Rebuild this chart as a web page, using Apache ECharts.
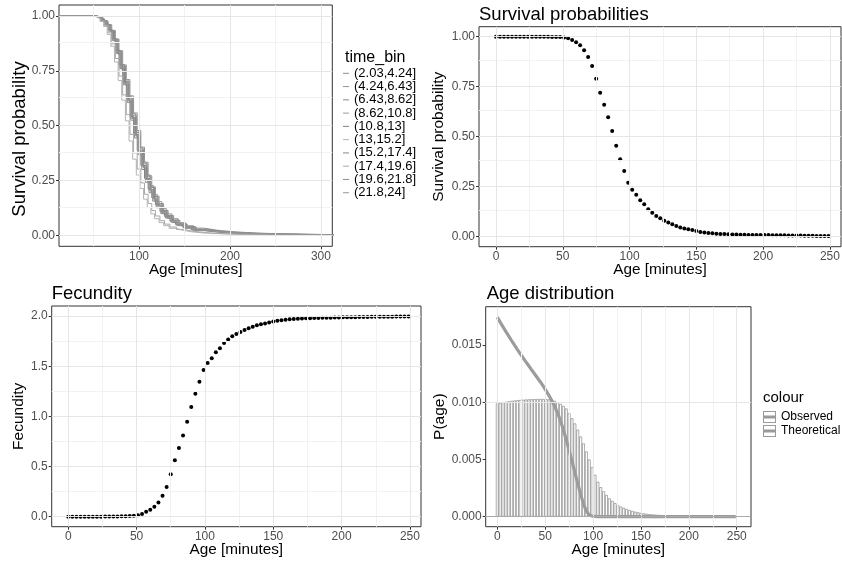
<!DOCTYPE html>
<html><head><meta charset="utf-8">
<script src="https://cdn.jsdelivr.net/npm/echarts@6/dist/echarts.min.js"></script>
<style>html,body{margin:0;padding:0;background:#fff}#c{width:842px;height:565px}</style>
</head><body><div id="c"></div>
<script>
// ---------- DATA ----------
const ages = [0,3,6,9,12,15,18,21,24,27,30,33,36,39,42,45,48,51,54,57,60,63,66,69,72,75,78,81,84,87,90,93,96,99,102,105,108,111,114,117,120,123,126,129,132,135,138,141,144,147,150,153,156,159,162,165,168,171,174,177,180,183,186,189,192,195,198,201,204,207,210,213,216,219,222,225,228,231,234,237,240,243,246,249];

const survival = [1.000,1.000,1.000,1.000,1.000,1.000,1.000,1.000,1.000,1.000,
1.000,1.000,1.000,1.000,0.999,0.999,0.998,0.996,0.992,0.983,
0.972,0.957,0.932,0.898,0.853,0.790,0.720,0.660,0.597,0.528,
0.455,0.387,0.328,0.270,0.235,0.210,0.182,0.162,0.137,0.120,
0.103,0.092,0.080,0.071,0.062,0.053,0.046,0.041,0.037,0.033,
0.028,0.024,0.021,0.019,0.017,0.015,0.014,0.013,0.012,0.011,
0.011,0.010,0.010,0.009,0.009,0.009,0.008,0.008,0.008,0.007,
0.007,0.007,0.007,0.006,0.006,0.006,0.006,0.005,0.005,0.005,
0.004,0.004,0.003,0.003];

const fecundity = [0.000,0.000,0.000,0.000,0.000,0.000,0.000,0.000,0.000,0.001,
0.001,0.001,0.002,0.003,0.004,0.006,0.009,0.014,0.027,0.048,
0.068,0.098,0.140,0.208,0.296,0.424,0.563,0.684,0.810,0.946,
1.092,1.226,1.346,1.462,1.532,1.580,1.640,1.678,1.730,1.766,
1.798,1.820,1.842,1.860,1.877,1.893,1.908,1.918,1.926,1.936,
1.946,1.953,1.959,1.963,1.967,1.970,1.973,1.975,1.977,1.979,
1.980,1.981,1.982,1.983,1.984,1.985,1.986,1.987,1.988,1.988,
1.989,1.990,1.990,1.991,1.992,1.992,1.993,1.993,1.994,1.994,
1.995,1.995,1.996,1.996];

const ageDistBars = [0.00990,0.00995,0.01000,0.01004,0.01008,0.01012,0.01015,0.01018,0.01020,0.01022,
0.01024,0.01025,0.01026,0.01027,0.01028,0.01028,0.01028,0.01027,0.01025,0.01020,
0.01012,0.01000,0.00985,0.00968,0.00945,0.00905,0.00860,0.00815,0.00760,0.00700,
0.00640,0.00570,0.00500,0.00432,0.00365,0.00305,0.00258,0.00222,0.00190,0.00160,
0.00138,0.00118,0.00100,0.00088,0.00077,0.00067,0.00058,0.00050,0.00044,0.00038,
0.00033,0.00029,0.00025,0.00022,0.00020,0.00018,0.00016,0.00014,0.00013,0.00012,
0.00011,0.00010,0.00009,0.00008,0.00008,0.00007,0.00007,0.00006,0.00006,0.00005,
0.00005,0.00005,0.00004,0.00004,0.00004,0.00003,0.00003,0.00003,0.00003,0.00002,
0.00002,0.00002,0.00002,0.00002];

const ageDistLine = [0.01743,0.01700,0.01658,0.01617,0.01577,0.01537,0.01498,0.01460,0.01423,0.01387,
0.01351,0.01316,0.01281,0.01247,0.01212,0.01177,0.01140,0.01100,0.01058,0.01013,
0.00962,0.00905,0.00838,0.00760,0.00672,0.00580,0.00486,0.00388,0.00290,0.00196,
0.00112,0.00048,0.00016,0.00005,0.00002,0.00001,0,0,0,0,
0,0,0,0,0,0,0,0,0,0,
0,0,0,0,0,0,0,0,0,0,
0,0,0,0,0,0,0,0,0,0,
0,0,0,0,0,0,0,0,0,0,
0,0,0,0];

const timeBins = ['(2.03,4.24]','(4.24,6.43]','(6.43,8.62]','(8.62,10.8]','(10.8,13]','(13,15.2]','(15.2,17.4]','(17.4,19.6]','(19.6,21.8]','(21.8,24]'];

const km1 = [[0,1],[53,0.996],[57,0.988],[61,0.976],[65,0.957],[69,0.928],[73,0.885],[77,0.826],[81,0.757],[85,0.688],[89,0.612],[93,0.532],[97,0.452],[101,0.376],[105,0.307],[109,0.247],[113,0.198],[117,0.158],[121,0.127],[126,0.099],[131,0.078],[137,0.058],[143,0.044],[151,0.032],[161,0.021],[172,0.015],[186,0.010],[203,0.007],[228,0.004],[255,0.003],[292,0.002],[340,0.002]];
const km2 = [[0,1],[54,0.995],[58,0.987],[62,0.977],[66,0.960],[70,0.934],[74,0.895],[78,0.842],[82,0.777],[86,0.710],[90,0.636],[94,0.558],[98,0.478],[102,0.402],[106,0.333],[110,0.272],[114,0.221],[118,0.179],[122,0.145],[127,0.113],[132,0.090],[138,0.068],[145,0.051],[153,0.037],[163,0.026],[175,0.018],[190,0.012],[208,0.008],[232,0.005],[262,0.003],[300,0.002],[340,0.001]];
const km3 = [[0,1],[51,0.996],[55,0.989],[59,0.978],[63,0.960],[67,0.931],[71,0.888],[75,0.829],[79,0.760],[83,0.686],[87,0.606],[91,0.525],[95,0.444],[99,0.368],[103,0.300],[107,0.242],[111,0.194],[115,0.156],[119,0.126],[124,0.099],[129,0.079],[135,0.060],[141,0.046],[149,0.034],[158,0.024],[169,0.017],[183,0.011],[200,0.007],[224,0.004],[252,0.003],[290,0.002],[340,0.001]];
const km4 = [[0,1],[52,0.996],[56,0.990],[60,0.980],[64,0.962],[68,0.935],[72,0.896],[76,0.843],[80,0.779],[84,0.709],[88,0.633],[92,0.555],[96,0.476],[100,0.401],[104,0.334],[108,0.276],[112,0.227],[116,0.187],[120,0.154],[125,0.122],[130,0.098],[136,0.076],[143,0.058],[151,0.044],[160,0.033],[171,0.024],[185,0.017],[202,0.011],[226,0.007],[255,0.004],[295,0.003],[340,0.002]];
const km5 = [[0,1],[50,0.997],[54,0.991],[58,0.981],[62,0.964],[66,0.938],[70,0.899],[74,0.845],[78,0.778],[82,0.703],[86,0.624],[90,0.543],[94,0.463],[98,0.387],[102,0.319],[106,0.260],[110,0.211],[114,0.171],[118,0.139],[123,0.109],[128,0.086],[134,0.065],[140,0.050],[148,0.037],[157,0.027],[168,0.019],[182,0.013],[199,0.009],[222,0.006],[250,0.004],[288,0.002],[340,0.002]];
const km6 = [[0,1],[49,0.996],[53,0.988],[57,0.975],[61,0.952],[65,0.916],[69,0.862],[73,0.790],[77,0.706],[81,0.616],[85,0.522],[89,0.430],[93,0.347],[97,0.275],[101,0.214],[105,0.165],[109,0.127],[113,0.098],[117,0.076],[122,0.058],[127,0.044],[133,0.032],[140,0.023],[148,0.016],[158,0.011],[170,0.008],[185,0.005],[205,0.003],[230,0.002],[260,0.001],[300,0.001],[340,0.001]];
const km7 = [[0,1],[52,0.997],[56,0.990],[60,0.979],[64,0.961],[68,0.934],[72,0.893],[76,0.836],[80,0.768],[84,0.695],[88,0.617],[92,0.538],[96,0.459],[100,0.385],[104,0.318],[108,0.259],[112,0.210],[116,0.170],[120,0.138],[125,0.108],[130,0.085],[136,0.064],[142,0.049],[150,0.036],[160,0.025],[171,0.018],[186,0.012],[204,0.008],[228,0.005],[258,0.003],[296,0.002],[340,0.001]];
const km8 = [[0,1],[50,0.996],[54,0.989],[58,0.977],[62,0.956],[66,0.923],[70,0.873],[74,0.806],[78,0.726],[82,0.640],[86,0.550],[90,0.460],[94,0.376],[98,0.302],[102,0.239],[106,0.187],[110,0.145],[114,0.113],[118,0.088],[123,0.067],[128,0.051],[134,0.038],[141,0.027],[149,0.019],[159,0.013],[171,0.009],[186,0.006],[205,0.004],[230,0.002],[260,0.001],[300,0.001],[340,0.001]];
const km9 = [[0,1],[53,0.996],[57,0.989],[61,0.978],[65,0.960],[69,0.932],[73,0.892],[77,0.838],[81,0.773],[85,0.702],[89,0.626],[93,0.548],[97,0.469],[101,0.394],[105,0.326],[109,0.267],[113,0.218],[117,0.177],[121,0.144],[126,0.114],[131,0.091],[137,0.070],[144,0.053],[152,0.040],[162,0.029],[174,0.020],[189,0.014],[207,0.009],[232,0.006],[262,0.004],[300,0.003],[340,0.002]];
const km10 = [[0,1],[51,0.997],[55,0.990],[59,0.979],[63,0.961],[67,0.933],[71,0.891],[75,0.834],[79,0.765],[83,0.691],[87,0.613],[91,0.533],[95,0.454],[99,0.380],[103,0.313],[107,0.255],[111,0.206],[115,0.166],[119,0.134],[124,0.105],[129,0.083],[135,0.063],[141,0.048],[149,0.035],[158,0.025],[169,0.018],[183,0.012],[201,0.008],[225,0.005],[254,0.003],[292,0.002],[340,0.001]];
const kmCurves = [km1,km2,km3,km4,km5,km6,km7,km8,km9,km10];
const kmColors = ['#8e8e8e','#939393','#8a8a8a','#9c9c9c','#828282','#b4b4b4','#878787','#a9a9a9','#8c8c8c','#979797'];

// tick / gridline values
const p1xMajor = [100,200,300], p1xMinor = [50,150,250];
const p1yMajor = [0,0.25,0.5,0.75,1], p1yMinor = [0.125,0.375,0.625,0.875];
const ageMajor = [0,50,100,150,200,250], ageMinor = [25,75,125,175,225];
const p3yMajor = [0,0.5,1,1.5,2], p3yMinor = [0.25,0.75,1.25,1.75];
const p4yMajor = [0,0.005,0.01,0.015], p4yMinor = [0.0025,0.0075,0.0125,0.0175];

// ---------- CHART ----------
const FONT = '"Liberation Sans", Arial, Helvetica, sans-serif';
const chart = echarts.init(document.getElementById('c'), null, {renderer:'canvas'});

function xAx(i, min, max, majors, nameGap) {
  return {type:'value', gridIndex:i, min:min, max:max, name:'Age [minutes]', nameLocation:'middle', nameGap:nameGap,
    nameMoveOverlap:false,
    nameTextStyle:{fontSize:15.3, color:'#000', fontFamily:FONT},
    axisLine:{show:false, onZero:false}, splitLine:{show:false}, minorSplitLine:{show:false},
    axisTick:{show:true, customValues:majors, length:3, lineStyle:{color:'#333', width:1}},
    axisLabel:{show:true, customValues:majors, margin:4, fontSize:12, color:'#4d4d4d', fontFamily:FONT,
      formatter:function(v){return String(Math.round(v));}}};
}
function yAx(i, min, max, majors, dec, name, nameGap, nameSize) {
  return {type:'value', gridIndex:i, min:min, max:max, name:name, nameLocation:'middle', nameGap:nameGap,
    nameMoveOverlap:false,
    nameTextStyle:{fontSize:nameSize, color:'#000', fontFamily:FONT},
    axisLine:{show:false, onZero:false}, splitLine:{show:false}, minorSplitLine:{show:false},
    axisTick:{show:true, customValues:majors, length:3, lineStyle:{color:'#333', width:1}},
    axisLabel:{show:true, customValues:majors, margin:4, fontSize:12, color:'#4d4d4d', fontFamily:FONT,
      formatter:function(v){return Number(v).toFixed(dec);}}};
}
function gridSeries(i, xMaj, xMin, yMaj, yMin) {
  const maj = {color:'#e6e6e6', width:1, type:'solid'};
  const mnr = {color:'#f2f2f2', width:1, type:'solid'};
  const d = [];
  xMin.forEach(v=>d.push({xAxis:v, lineStyle:mnr}));
  yMin.forEach(v=>d.push({yAxis:v, lineStyle:mnr}));
  xMaj.forEach(v=>d.push({xAxis:v, lineStyle:maj}));
  yMaj.forEach(v=>d.push({yAxis:v, lineStyle:maj}));
  return {type:'line', name:'_grid'+i, xAxisIndex:i, yAxisIndex:i, data:[], silent:true, z:1,
    markLine:{silent:true, symbol:['none','none'], label:{show:false}, animation:false, data:d}};
}

const series = [];
series.push(gridSeries(0, p1xMajor, p1xMinor, p1yMajor, p1yMinor));
series.push(gridSeries(1, ageMajor, ageMinor, p1yMajor, p1yMinor));
series.push(gridSeries(2, ageMajor, ageMinor, p3yMajor, p3yMinor));
series.push(gridSeries(3, ageMajor, ageMinor, p4yMajor, p4yMinor));

kmCurves.forEach((c, k) => {
  series.push({type:'line', name:timeBins[k], xAxisIndex:0, yAxisIndex:0, data:c, step:'end',
    showSymbol:false, symbol:'none', z:3, color:kmColors[k],
    lineStyle:{color:kmColors[k], width:1}, itemStyle:{color:kmColors[k]}});
});

series.push({type:'scatter', name:'survival', xAxisIndex:1, yAxisIndex:1, z:3,
  data:ages.map((a,i)=>[a, survival[i]]), symbolSize:4, itemStyle:{color:'#000', opacity:1}});
series.push({type:'scatter', name:'fecundity', xAxisIndex:2, yAxisIndex:2, z:3,
  data:ages.map((a,i)=>[a, fecundity[i]]), symbolSize:4, itemStyle:{color:'#000', opacity:1}});

series.push({type:'bar', name:'Theoretical', xAxisIndex:3, yAxisIndex:3, z:2, barWidth:2.87,
  data:ages.map((a,i)=>[a, ageDistBars[i]]),
  itemStyle:{color:'rgba(255,255,255,0)', borderColor:'#8a8a8a', borderWidth:0.7},
  markLine:{silent:true, symbol:['none','none'], label:{show:false}, animation:false,
    data:[{yAxis:0, lineStyle:{color:'#9a9a9a', width:0.8, type:'solid'}}]}});
series.push({type:'line', name:'Observed', xAxisIndex:3, yAxisIndex:3, z:4,
  data:ages.map((a,i)=>[a, ageDistLine[i]]), showSymbol:false, symbol:'none',
  color:'#9c9c9c', lineStyle:{color:'#9c9c9c', width:3.2}, itemStyle:{color:'#9c9c9c'}});

const ICON = 'path://M0,0H13V12H0Z M1,1V11H12V1Z M1,4.5H12V7.5H1Z';
const titleStyle = {fontSize:18.5, fontWeight:'normal', color:'#000', fontFamily:FONT};

const option = {
  animation:false,
  backgroundColor:'#fff',
  textStyle:{fontFamily:FONT},
  title:[
    {text:'Survival probabilities', left:479, top:5, padding:0, textStyle:titleStyle},
    {text:'Fecundity', left:51.7, top:284.5, padding:0, textStyle:titleStyle},
    {text:'Age distribution', left:486.7, top:284.5, padding:0, textStyle:titleStyle},
    {text:'time_bin', left:345, top:50, padding:0, textStyle:{fontSize:16, fontWeight:'normal', color:'#000', fontFamily:FONT}},
    {text:'colour', left:763, top:390, padding:0, textStyle:{fontSize:15, fontWeight:'normal', color:'#000', fontFamily:FONT}}
  ],
  legend:[
    {orient:'vertical', left:343, top:66.8, padding:0, itemGap:0.27, itemWidth:6, itemHeight:1, icon:'rect',
     selectedMode:false, textStyle:{fontSize:13, color:'#000', fontFamily:FONT},
     data:timeBins.map((t,k)=>({name:t, itemStyle:{color:kmColors[k]}}))},
    {orient:'vertical', left:763, top:411, padding:0, itemGap:2, itemWidth:13, itemHeight:12,
     selectedMode:false, textStyle:{fontSize:12, color:'#000', fontFamily:FONT},
     data:[{name:'Observed', icon:ICON, itemStyle:{color:'#9a9a9a', borderWidth:0}},
           {name:'Theoretical', icon:ICON, itemStyle:{color:'#9a9a9a', borderWidth:0}}]}
  ],
  graphic:[
    {type:'text', x:20, y:139, rotation:Math.PI/2, silent:true,
     style:{text:'Survival probability', fontSize:18.5, fontFamily:FONT, fill:'#000', align:'center', verticalAlign:'middle'}}
  ],
  grid:[
    {left:59, top:5, width:273.3, height:241.3, show:true, borderColor:'#333', borderWidth:1, backgroundColor:'#fff', containLabel:false, outerBoundsMode:'none'},
    {left:479, top:26.7, width:362, height:220, show:true, borderColor:'#333', borderWidth:1, backgroundColor:'#fff', containLabel:false, outerBoundsMode:'none'},
    {left:51.7, top:306, width:369.3, height:220.7, show:true, borderColor:'#333', borderWidth:1, backgroundColor:'#fff', containLabel:false, outerBoundsMode:'none'},
    {left:485.7, top:306.7, width:265.3, height:220, show:true, borderColor:'#333', borderWidth:1, backgroundColor:'#fff', containLabel:false, outerBoundsMode:'none'}
  ],
  xAxis:[
    xAx(0, 12, 312.5, p1xMajor, 16),
    xAx(1, -12.7, 258.3, ageMajor, 16),
    xAx(2, -12.1, 258.1, ageMajor, 16),
    xAx(3, -12.1, 264.9, ageMajor, 16)
  ],
  yAxis:[
    yAx(0, -0.05, 1.05, p1yMajor, 2, '', 30, 18.5),
    yAx(1, -0.05, 1.05, p1yMajor, 2, 'Survival probability', 32, 15.5),
    yAx(2, -0.1, 2.1, p3yMajor, 1, 'Fecundity', 25, 15.5),
    yAx(3, -0.000874, 0.018345, p4yMajor, 3, 'P(age)', 38, 15.5)
  ],
  series:series
};
chart.setOption(option);
</script>
</body></html>
